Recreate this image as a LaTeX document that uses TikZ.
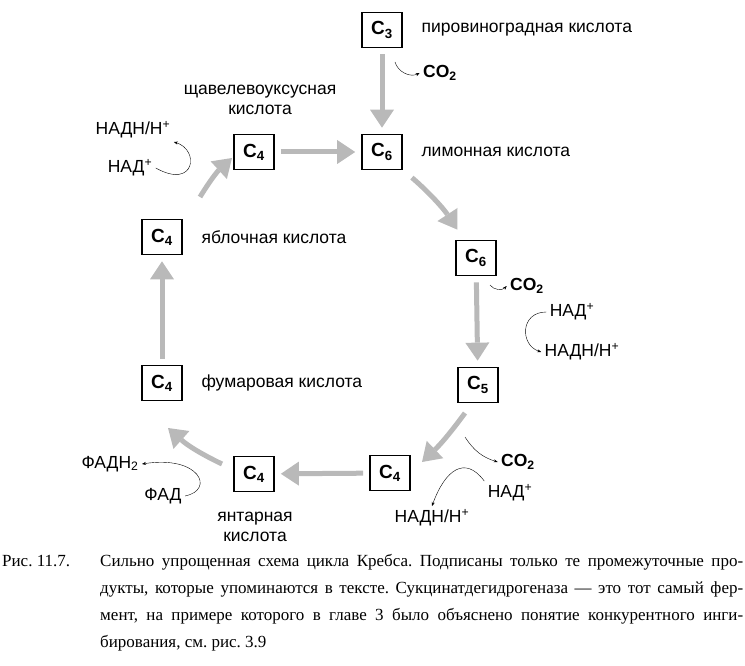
\documentclass[tikz,border=0pt]{standalone}
\usepackage{fontspec}
\setmainfont{Liberation Serif}
\newfontfamily\diagfont{Liberation Sans}
\usetikzlibrary{arrows.meta,positioning}
\frenchspacing
\begin{document}
\begin{tikzpicture}[x=1pt,y=-1pt,font=\diagfont\fontsize{17.5}{20}\selectfont]

    \tikzstyle{carbon} = [rectangle, draw, line width=1.7pt, minimum width=40pt, minimum height=35pt, font=\diagfont\bfseries\fontsize{19}{20}\selectfont]
    \tikzstyle{acid} = [anchor=west]
    \tikzstyle{turn} = [draw=gray!55, line width=5pt, -{Triangle[length=18pt,width=24pt,fill=gray!55,line width=0pt]}, shorten <=6pt, shorten >=6pt]
    \tikzstyle{side} = [thin, -{Stealth[length=4pt]}]
    \tikzstyle{gas} = [font=\diagfont\bfseries\fontsize{17.5}{20}\selectfont]

    \useasboundingbox (0,0) rectangle (745,666);

    \node (pyr) [carbon] at (382,30) {C\textsubscript{3}};
    \node [acid] at (418,30) {пировиноградная кислота};
    \node (cit) [carbon] at (382,152) {C\textsubscript{6}};
    \node [acid] at (418,152) {лимонная кислота};
    \node (oxa) [carbon] at (254,152) {C\textsubscript{4}};
    \node [align=center] at (260,100) {щавелевоуксусная\\кислота};
    \node (iso) [carbon] at (476,258) {C\textsubscript{6}};
    \node (keto) [carbon] at (478,385) {C\textsubscript{5}};
    \node (suc) [carbon] at (390,473) {C\textsubscript{4}};
    \node (sca) [carbon] at (254,474) {C\textsubscript{4}};
    \node [align=center] at (255,527) {янтарная\\кислота};
    \node (fum) [carbon] at (162,383) {C\textsubscript{4}};
    \node [acid] at (198,383) {фумаровая кислота};
    \node (mal) [carbon] at (162,237) {C\textsubscript{4}};
    \node [acid] at (198,237) {яблочная кислота};

    % cofactors
    \node (co2a) [gas] at (440,73) {CO\textsubscript{2}};
    \node (co2b) [gas] at (527,286) {CO\textsubscript{2}};
    \node (co2c) [gas] at (518,462) {CO\textsubscript{2}};
    \node (nad1) at (572,312) {НАД\textsuperscript{+}};
    \node (nadh1) at (582,352) {НАДН/Н\textsuperscript{+}};
    \node (nad2) at (510,493) {НАД\textsuperscript{+}};
    \node (nadh2) at (432,518) {НАДН/Н\textsuperscript{+}};
    \node (nad3) at (130,168) {НАД\textsuperscript{+}};
    \node (nadh3) at (133,130) {НАДН/Н\textsuperscript{+}};
    \node (fadh) at (110,464) {ФАДН\textsubscript{2}};
    \node (fad) at (163,496) {ФАД};

    \coordinate (k1) at (465,413);
    \coordinate (k2) at (422,462);
    \coordinate (f1) at (222,464);
    \coordinate (f2) at (168,428);
    \coordinate (m1) at (200,197);
    \coordinate (m2) at (232,158);

    % main cycle
    \draw [turn] (pyr) -- (cit);
    \draw [turn] (oxa) -- (cit);
    \draw [turn, shorten <=12pt, shorten >=12pt] (cit) to[bend left=8] (iso);
    \draw [turn] (iso) -- (keto);
    \draw [turn, shorten <=0pt, shorten >=0pt] (k1) to[bend left=5] (k2);
    \draw [turn] (suc) -- (sca);
    \draw [turn, shorten <=0pt, shorten >=0pt] (f1) to[bend left=8] (f2);
    \draw [turn] (fum) -- (mal);
    \draw [turn, shorten <=0pt, shorten >=0pt] (m1) to[bend left=8] (m2);

    % side reactions
    \draw [side] (395,62) to[bend right=50] (co2a.west);
    \draw [side] (490,285) to[bend right=50] (co2b.west);
    \draw [side] (nad1.west) .. controls (520,312) and (520,345) .. (nadh1.west);
    \draw [side] (465,437) to[bend right=20] (co2c.west);
    \draw [side] (nad2.north west) .. controls (465,455) and (445,470) .. (nadh2.north);
    \draw [side] (nad3.east) .. controls (195,190) and (200,150) .. (nadh3.south east);
    \draw [side] (fad.east) .. controls (215,490) and (200,455) .. (fadh.east);

    % caption
    \node [anchor=base west, inner sep=0pt, font=\fontsize{17}{20}\selectfont] at (2,566) {Рис. 11.7.};
    \node [anchor=base west, inner sep=0pt, font=\fontsize{17}{20}\selectfont] at (100,566) {\makebox[643pt][s]{Сильно упрощенная схема цикла Кребса. Подписаны только те промежуточные про-}};
    \node [anchor=base west, inner sep=0pt, font=\fontsize{17}{20}\selectfont] at (100,593) {\makebox[643pt][s]{дукты, которые упоминаются в тексте. Сукцинатдегидрогеназа — это тот самый фер-}};
    \node [anchor=base west, inner sep=0pt, font=\fontsize{17}{20}\selectfont] at (100,620) {\makebox[643pt][s]{мент, на примере которого в главе 3 было объяснено понятие конкурентного инги-}};
    \node [anchor=base west, inner sep=0pt, font=\fontsize{17}{20}\selectfont] at (100,647) {бирования, см. рис. 3.9};

\end{tikzpicture}
\end{document}
